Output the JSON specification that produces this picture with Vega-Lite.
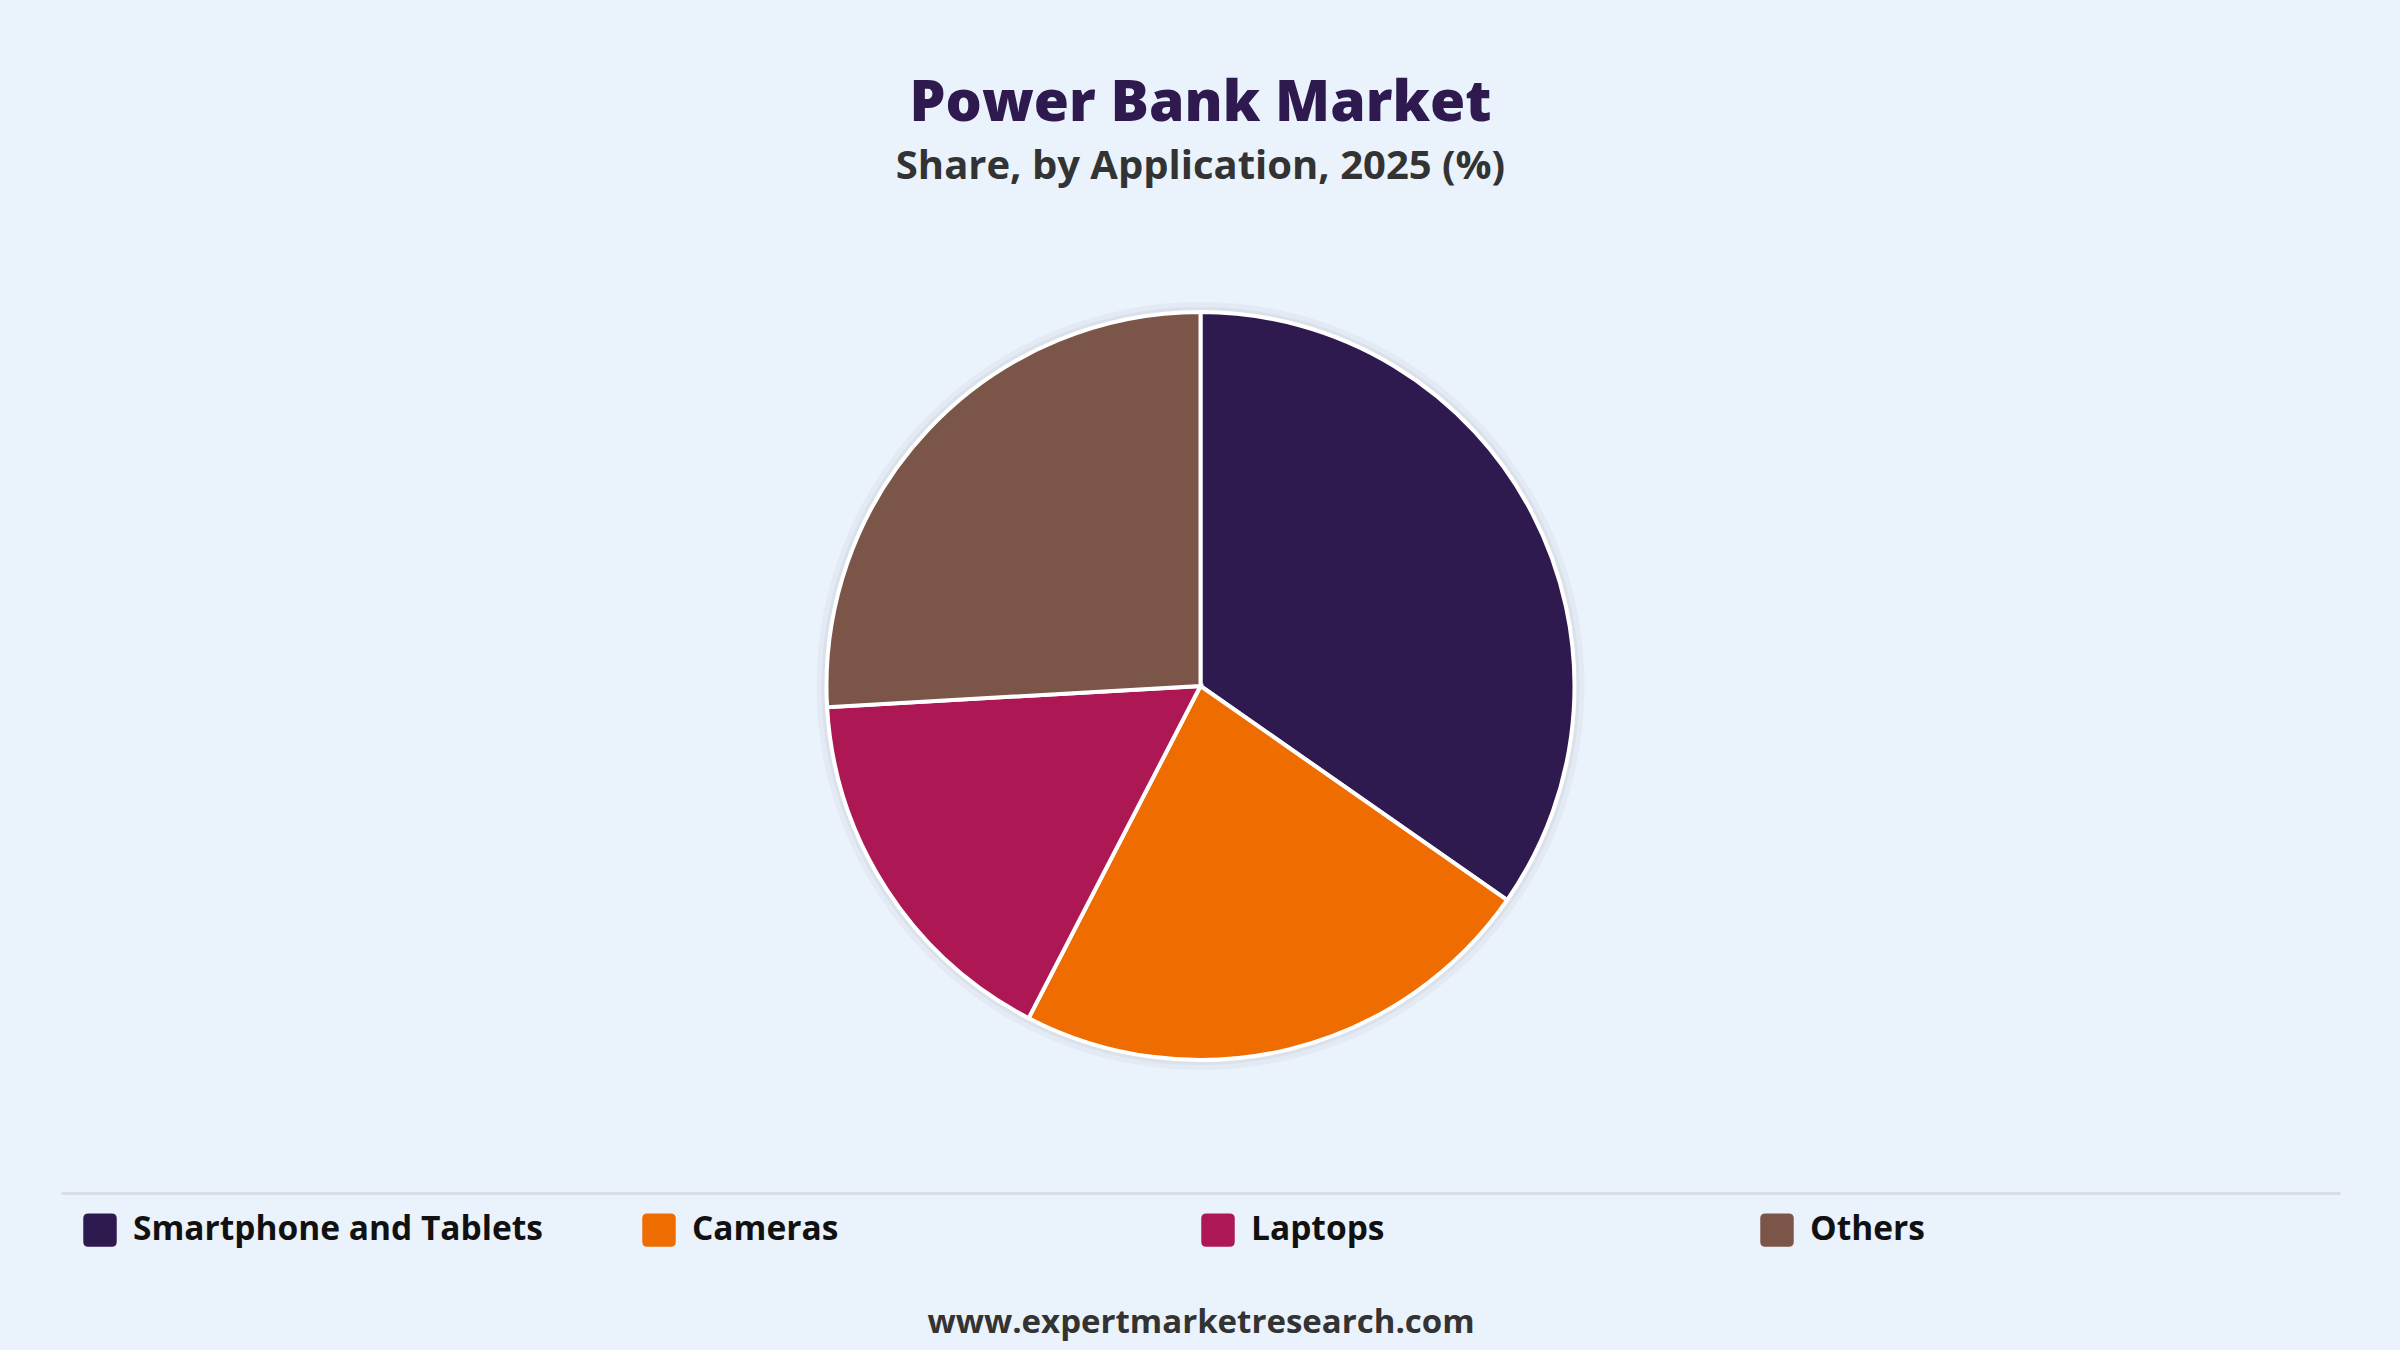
{
  "$schema": "https://vega.github.io/schema/vega-lite/v6.json",
  "autosize": {"type": "none"},
  "width": 2279,
  "height": 1014,
  "padding": {"top": 179, "left": 61, "right": 60, "bottom": 157},
  "background": "#EAF2FB",
  "title": {
    "text": "Power Bank Market",
    "subtitle": "Share, by Application, 2025 (%)",
    "anchor": "middle",
    "font": "Open Sans",
    "fontSize": 57,
    "fontWeight": 800,
    "color": "#2E1A4F",
    "subtitleFont": "Open Sans",
    "subtitleFontSize": 40,
    "subtitleFontWeight": "bold",
    "subtitleColor": "#333333",
    "subtitlePadding": 14,
    "offset": -9
  },
  "layer": [
    {
      "data": {"values": [{"ring": "outer"}]},
      "mark": {"type": "arc", "radius": 384, "theta": 0, "theta2": 6.2832, "fill": "#d6dee8", "opacity": 0.35},
      "encoding": {}
    },
    {
      "data": {"values": [{"ring": "inner"}]},
      "mark": {"type": "arc", "radius": 379, "theta": 0, "theta2": 6.2832, "fill": "#d3dbe5", "opacity": 0.6},
      "encoding": {}
    },
    {
      "data": {
        "values": [
          {"application": "Smartphone and Tablets", "share": 34.7, "rank": 1},
          {"application": "Cameras", "share": 22.9, "rank": 2},
          {"application": "Laptops", "share": 16.5, "rank": 3},
          {"application": "Others", "share": 25.9, "rank": 4}
        ]
      },
      "mark": {"type": "arc", "radius": 374, "stroke": "#ffffff", "strokeWidth": 4},
      "encoding": {
        "theta": {"field": "share", "type": "quantitative", "stack": true},
        "order": {"field": "rank", "type": "quantitative", "sort": "ascending"},
        "color": {
          "field": "application",
          "type": "nominal",
          "sort": ["Smartphone and Tablets", "Cameras", "Laptops", "Others"],
          "scale": {
            "domain": ["Smartphone and Tablets", "Cameras", "Laptops", "Others"],
            "range": ["#2E1A4F", "#EE6C00", "#AC1754", "#7A5548"]
          },
          "legend": {
            "title": null,
            "orient": "none",
            "legendX": 22,
            "legendY": 1034,
            "direction": "horizontal",
            "columns": 4,
            "gridAlign": "all",
            "columnPadding": 99,
            "symbolType": "M -0.7 -1 L 0.7 -1 Q 1 -1 1 -0.7 L 1 0.7 Q 1 1 0.7 1 L -0.7 1 Q -1 1 -1 0.7 L -1 -0.7 Q -1 -1 -0.7 -1 Z",
            "symbolSize": 1120,
            "symbolStrokeWidth": 0,
            "labelFont": "Open Sans",
            "labelFontSize": 33.5,
            "labelFontWeight": "bold",
            "labelColor": "#111111",
            "labelOffset": 16,
            "labelLimit": 600
          }
        }
      }
    },
    {
      "data": {"values": [{"edge": 0}]},
      "mark": {"type": "rule", "opacity": 0},
      "encoding": {
        "x": {
          "field": "edge",
          "type": "quantitative",
          "scale": {"domain": [0, 1]},
          "axis": {
            "domainColor": "#dcdde0",
            "domainWidth": 3,
            "ticks": false,
            "labels": false,
            "grid": false,
            "title": "www.expertmarketresearch.com",
            "titleFont": "Open Sans",
            "titleFontSize": 33,
            "titleFontWeight": "bold",
            "titleColor": "#333333",
            "titlePadding": 113
          }
        }
      }
    }
  ],
  "config": {"view": {"stroke": null}}
}
